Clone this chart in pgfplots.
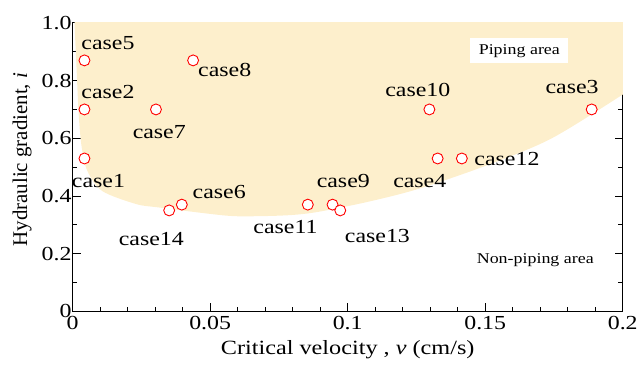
\documentclass[border=0pt]{standalone}
\usepackage{fontspec}
\setmainfont{Liberation Serif}[FakeStretch=1.2]
\newfontfamily\ylabfont{Liberation Serif}[FakeStretch=1.0]
\usepackage{pgfplots}
\pgfplotsset{compat=1.18}
\definecolor{pipe}{RGB}{253,239,204}
\begin{document}
\begin{tikzpicture}
\begin{axis}[
  at={(0,0)}, anchor=south west,
  scale only axis, width=553pt, height=290pt,
  xmin=0, xmax=0.2, ymin=0, ymax=1,
  xtick={0,0.05,0.1,0.15,0.2}, xticklabels={0,0.05,0.1,0.15,0.2},
  ytick={0,0.2,0.4,0.6,0.8,1.0}, yticklabels={0,0.2,0.4,0.6,0.8,1.0},
  minor x tick num=4, minor y tick num=1,
  tick align=inside, major tick length=8pt, minor tick length=4.5pt,
  every tick/.style={black, line width=0.9pt},
  axis line style={line width=1pt},
  /pgf/number format/assume math mode=true,
  ticklabel style={font=\fontsize{20}{21}\selectfont},
  yticklabel style={xshift=2.5pt},
  xticklabel style={yshift=-1pt},
  xlabel={Critical velocity , \textit{v} (cm/s)},
  xlabel style={font=\fontsize{20.3}{21}\selectfont, at={(axis description cs:0.5,-0.134)}, anchor=center},
  ylabel={\ylabfont Hydraulic gradient, \textit{i}},
  ylabel style={font=\fontsize{21}{22}\selectfont, at={(axis description cs:-0.092,0.526)}, anchor=center},
  clip=true,
]
% piping region
\addplot[fill=pipe, draw=none, smooth, tension=0.5] coordinates {
  (-0.01,1.3) (0.0004,1.15) (0.0007,1.0) (0.0014,0.85) (0.0022,0.683)
  (0.0033,0.569) (0.0054,0.486) (0.0108,0.417) (0.0231,0.372) (0.0315,0.360)
  (0.0557,0.332) (0.0676,0.330) (0.0796,0.334) (0.0893,0.345) (0.107,0.379)
  (0.1255,0.424) (0.1497,0.503) (0.1736,0.597) (0.1989,0.745) (0.207,0.80)
  (0.215,0.86) (0.24,1.3)
} -- cycle;
% cases
\addplot[only marks, mark=*, mark size=5.5pt,
  mark options={draw=red, fill=white, line width=0.9pt}] coordinates {
  (0.0043,0.53) (0.0043,0.70) (0.1887,0.70) (0.1327,0.53) (0.0043,0.87)
  (0.0397,0.37) (0.0303,0.70) (0.0438,0.87) (0.0945,0.37) (0.1297,0.70)
  (0.0855,0.37) (0.1415,0.53) (0.0973,0.35) (0.0351,0.35)
};
\tikzset{lab/.style={font=\fontsize{20}{21}\selectfont, inner sep=0pt}}
\node[lab] at (axis cs:0.0094,0.452) {case1};
\node[lab] at (axis cs:0.01284,0.762) {case2};
\node[lab] at (axis cs:0.1816,0.779) {case3};
\node[lab] at (axis cs:0.1262,0.452) {case4};
\node[lab] at (axis cs:0.01284,0.931) {case5};
\node[lab] at (axis cs:0.0533,0.414) {case6};
\node[lab] at (axis cs:0.0315,0.621) {case7};
\node[lab] at (axis cs:0.0553,0.838) {case8};
\node[lab] at (axis cs:0.0984,0.452) {case9};
\node[lab] at (axis cs:0.1255,0.769) {case10};
\node[lab] at (axis cs:0.0774,0.293) {case11};
\node[lab] at (axis cs:0.1579,0.528) {case12};
\node[lab] at (axis cs:0.1108,0.262) {case13};
\node[lab] at (axis cs:0.0286,0.252) {case14};
\node[fill=white, inner xsep=8.5pt, inner ysep=6pt, font=\fontsize{15}{17}\selectfont] at (axis cs:0.1624,0.903) {Piping area};
\node[font=\fontsize{15}{17}\selectfont] at (axis cs:0.1682,0.176) {Non-piping area};
\end{axis}
\path (-73pt,-54pt) rectangle (568pt,313pt);
\end{tikzpicture}
\end{document}
